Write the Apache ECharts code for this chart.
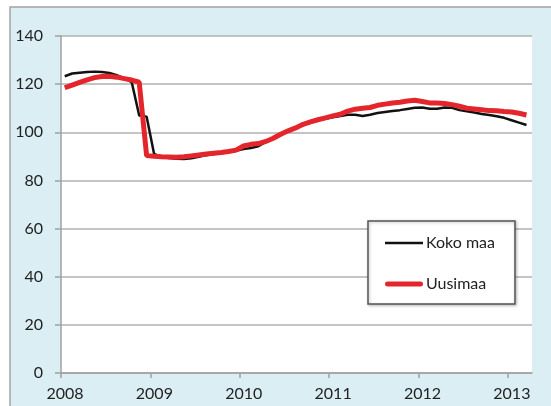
<!DOCTYPE html>
<html>
<head>
<meta charset="utf-8">
<script src="https://cdn.jsdelivr.net/npm/echarts@6/dist/echarts.min.js"></script>
<style>
  html, body { margin: 0; padding: 0; background: #fff; }
  #main { width: 551px; height: 406px; }
</style>
</head>
<body>
<div id="main"></div>
<script>
// monthly index, Jan 2008 .. Mar 2013
var startYear = 2008;
var yearTicks = [2008, 2009, 2010, 2011, 2012, 2013];

var kokoMaa = [
  123.3, 124.4, 124.7, 125.0, 125.2, 125.0, 124.6, 123.7, 122.4, 120.8, 107.0, 106.5,
  91.0, 89.8, 89.3, 89.0, 88.9, 89.2, 89.8, 90.5, 91.0, 91.3, 91.8, 92.3,
  93.0, 93.5, 94.2, 96.0, 97.8, 99.5, 100.8, 101.8, 103.0, 104.0, 105.0, 105.6,
  106.2, 106.8, 107.3, 107.3, 106.8, 107.3, 108.0, 108.4, 108.8, 109.2, 109.7, 110.2,
  110.3, 109.8, 109.8, 110.3, 110.2, 109.2, 108.7, 108.2, 107.6, 107.2, 106.7, 106.0,
  105.0, 104.0, 103.0
];

var uusimaa = [
  118.5, 119.6, 120.7, 121.8, 122.7, 123.2, 123.3, 122.9, 122.3, 121.7, 120.8, 90.3,
  90.0, 89.8, 89.7, 89.6, 89.8, 90.2, 90.6, 91.0, 91.3, 91.6, 92.0, 92.6,
  94.3, 95.0, 95.3, 96.2, 97.5, 99.2, 100.6, 101.8, 103.3, 104.3, 105.2, 106.0,
  106.8, 107.5, 108.8, 109.6, 110.0, 110.3, 111.2, 111.7, 112.2, 112.5, 113.0, 113.3,
  112.8, 112.2, 112.2, 112.0, 111.5, 110.8, 110.0, 109.7, 109.4, 109.0, 108.9, 108.6,
  108.4, 107.9, 107.2
];

// points sit in the middle of each month
function toPoints(arr) {
  return arr.map(function (v, i) { return [startYear + (i + 0.5) / 12, v]; });
}

var chart = echarts.init(document.getElementById('main'));
var font = 'Lato, "Liberation Sans", sans-serif';

var option = {
  animation: false,
  graphic: [{
    type: 'rect',
    z: -10,
    shape: { x: 10, y: 7, width: 600, height: 500 },
    style: { fill: '#dbeef4', stroke: '#a3a3a3', lineWidth: 1.5 }
  }],
  grid: {
    left: 61, top: 36, right: 19, bottom: 33,
    show: true, backgroundColor: '#fff', borderWidth: 0
  },
  legend: {
    orient: 'vertical',
    left: 368, top: 221,
    padding: [14, 20, 12, 17],
    itemWidth: 38, itemHeight: 14, itemGap: 25,
    backgroundColor: '#fff',
    borderColor: '#555', borderWidth: 1.5,
    shadowColor: 'rgba(0,0,0,0.25)', shadowBlur: 3, shadowOffsetX: 1, shadowOffsetY: 1,
    textStyle: { fontFamily: font, fontSize: 16, color: '#222', padding: [0, 0, 0, -2] },
    data: [
      { name: 'Koko maa', icon: 'path://M0,0 H38 V2.5 H0 Z' },
      { name: 'Uusimaa', icon: 'path://M2.5,0 H35.5 A2.5,2.5 0 0 1 35.5,5 H2.5 A2.5,2.5 0 0 1 2.5,0 Z' }
    ]
  },
  xAxis: {
    type: 'value',
    min: 2008, max: 2013.27,
    interval: 1,
    splitLine: { show: false },
    axisLine: { lineStyle: { color: '#a0a0a0', width: 1.5 } },
    axisTick: { customValues: yearTicks, length: 5, lineStyle: { color: '#a0a0a0', width: 1.5 } },
    axisLabel: {
      customValues: yearTicks,
      margin: 13,
      padding: [0, 0, 0, 8],
      fontFamily: font, fontSize: 16, color: '#222',
      formatter: function (v) { return String(v); }
    }
  },
  yAxis: {
    type: 'value',
    min: 0, max: 140, interval: 20,
    axisLine: { show: true, lineStyle: { color: '#a0a0a0', width: 1.5 } },
    axisTick: { show: true, length: 6, lineStyle: { color: '#a0a0a0', width: 1.5 } },
    splitLine: { lineStyle: { color: '#b0b0b0', width: 1.5 } },
    axisLabel: { margin: 18, fontFamily: font, fontSize: 16, color: '#222' }
  },
  series: [{
    name: 'Koko maa',
    type: 'line',
    symbol: 'none',
    data: toPoints(kokoMaa),
    itemStyle: { color: '#111' },
    lineStyle: { color: '#111', width: 2.5 }
  }, {
    name: 'Uusimaa',
    type: 'line',
    symbol: 'none',
    data: toPoints(uusimaa),
    itemStyle: { color: '#e4262c' },
    lineStyle: { color: '#e4262c', width: 5 }
  }]
};

chart.setOption(option);
</script>
</body>
</html>
